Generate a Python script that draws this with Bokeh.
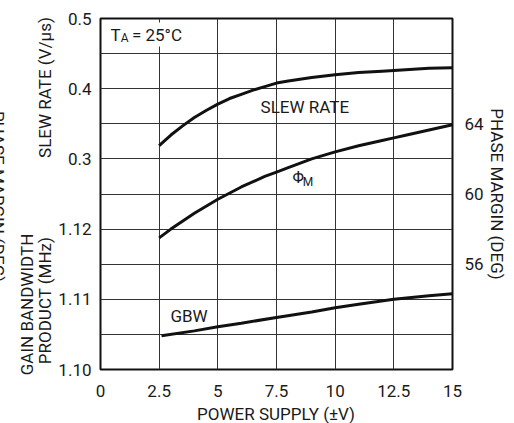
import math
from bokeh.plotting import figure
from bokeh.models import Range1d, LinearAxis, FixedTicker, Label, BoxAnnotation
from bokeh.core.properties import value
from bokeh.embed import file_html
from bokeh.resources import INLINE

# ---- data ----
supply_sr = [2.5, 3, 3.5, 4, 4.5, 5, 5.5, 6, 6.5, 7, 7.5, 8, 9, 10, 11, 12, 13, 14, 15]
slew_rate = [0.319, 0.334, 0.347, 0.359, 0.369, 0.378, 0.386, 0.392, 0.398, 0.403,
             0.408, 0.411, 0.416, 0.420, 0.423, 0.425, 0.427, 0.429, 0.430]

supply_pm = [2.5, 3, 4, 5, 6, 7, 7.5, 8, 9, 10, 11, 12, 12.5, 13, 14, 15]
phase_margin = [57.5, 58.0, 58.9, 59.7, 60.4, 61.0, 61.25, 61.5, 62.0, 62.4,
                62.75, 63.05, 63.2, 63.35, 63.65, 63.95]

supply_gbw = [2.6, 4, 5, 6, 7.5, 9, 10, 11, 12.5, 14, 15]
gbw = [1.1048, 1.1055, 1.1061, 1.1066, 1.1074, 1.1082, 1.1088, 1.1093, 1.1100, 1.1105, 1.1108]

x_ticks = [0, 2.5, 5, 7.5, 10, 12.5, 15]
x_tick_labels = ["0", "2.5", "5", "7.5", "10", "12.5", "15"]
left_ticks = [0.0, 0.1, 0.2, 0.3, 0.4, 0.5]
left_tick_labels = ["1.10", "1.11", "1.12", "0.3", "0.4", "0.5"]
pm_ticks = [56, 60, 64]
pm_tick_labels = ["56", "60", "64"]
grid_rows = [0.0, 0.05, 0.1, 0.15, 0.2, 0.25, 0.3, 0.35, 0.4, 0.45, 0.5]

FONT = "Roboto"
INK = "#1a1a1a"

p = figure(width=510, height=423, x_range=Range1d(0, 15), y_range=Range1d(0, 0.5),
           output_backend="svg", toolbar_location=None,
           min_border_left=100, min_border_right=58, min_border_top=18, min_border_bottom=54)
p.background_fill_color = "white"
p.border_fill_color = "white"
p.outline_line_color = "#111111"
p.outline_line_width = 2

p.extra_y_ranges = {"pm": Range1d(50, 70), "gbw": Range1d(1.10, 1.15)}

p.xaxis.ticker = FixedTicker(ticks=x_ticks)
p.xaxis.major_label_overrides = dict(zip(x_ticks, x_tick_labels))
p.yaxis.ticker = FixedTicker(ticks=left_ticks)
p.yaxis.major_label_overrides = dict(zip(left_ticks, left_tick_labels))

right = LinearAxis(y_range_name="pm", ticker=FixedTicker(ticks=pm_ticks))
right.major_label_overrides = dict(zip(pm_ticks, pm_tick_labels))
p.add_layout(right, "right")

for ax in [p.xaxis[0], p.yaxis[0], right]:
    ax.axis_line_color = None
    ax.major_tick_line_color = None
    ax.minor_tick_line_color = None
    ax.major_label_text_font = FONT
    ax.major_label_text_font_size = "17px"
    ax.major_label_text_color = INK
    ax.axis_label_text_font = FONT
    ax.axis_label_text_font_size = "17px"
    ax.axis_label_text_font_style = "normal"
    ax.axis_label_text_color = INK
p.xaxis[0].major_label_standoff = 9
p.yaxis[0].major_label_standoff = 3
right.major_label_standoff = 6

right.axis_label = "PHASE MARGIN (DEG)"
right.axis_label_standoff = 0

p.xgrid.ticker = FixedTicker(ticks=x_ticks)
p.ygrid.ticker = FixedTicker(ticks=grid_rows)
p.xgrid.grid_line_color = "#333333"
p.ygrid.grid_line_color = "#333333"
p.xgrid.grid_line_width = 1
p.ygrid.grid_line_width = 1

p.line(supply_sr, slew_rate, line_width=3, line_color="#111111")
p.line(supply_pm, phase_margin, y_range_name="pm", line_width=3, line_color="#111111")
p.line(supply_gbw, gbw, y_range_name="gbw", line_width=3, line_color="#111111")

# white patch behind the temperature note
p.add_layout(BoxAnnotation(left=0.30, right=3.55, top=0.4943, bottom=0.4601,
                           fill_color="white", fill_alpha=1.0, line_color=None))


def lab(x, y, text, size="17px", align="left"):
    p.add_layout(Label(x=x, y=y, text=text, text_font=FONT, text_font_size=size,
                       text_color=INK, text_align=align, text_baseline="alphabetic"))


# inside-plot annotations
lab(0.426, 0.4771, "T")
lab(0.86, 0.4725, "A", size="12px")
lab(1.34, 0.4771, "= 25°C")
lab(6.82, 0.3746, "SLEW RATE")
lab(8.18, 0.2735, "Φ", size="16px")
lab(8.62, 0.2665, "M", size="12px")
lab(2.98, 0.0755, "GBW")


# titles outside the frame, drawn as text glyphs on the overlay level (not clipped)
def side_text(x, y, text, angle=0.0):
    p.text(x=[x], y=[y], text=[text], angle=angle, text_font=value(FONT),
           text_font_size=value("17px"), text_color=INK, text_align="center",
           text_baseline="middle", level="overlay")


side_text(-2.38, 0.4017, "SLEW RATE (V/µs)", math.pi / 2)
side_text(-3.15, 0.0926, "GAIN BANDWIDTH", math.pi / 2)
side_text(-2.38, 0.0983, "PRODUCT (MHz)", math.pi / 2)
side_text(-4.35, 0.2464, "PHASE MARGIN (DEG)", -math.pi / 2)
side_text(7.48, -0.0641, "POWER SUPPLY (±V)")

open("out.html", "w").write(file_html(p, INLINE))
